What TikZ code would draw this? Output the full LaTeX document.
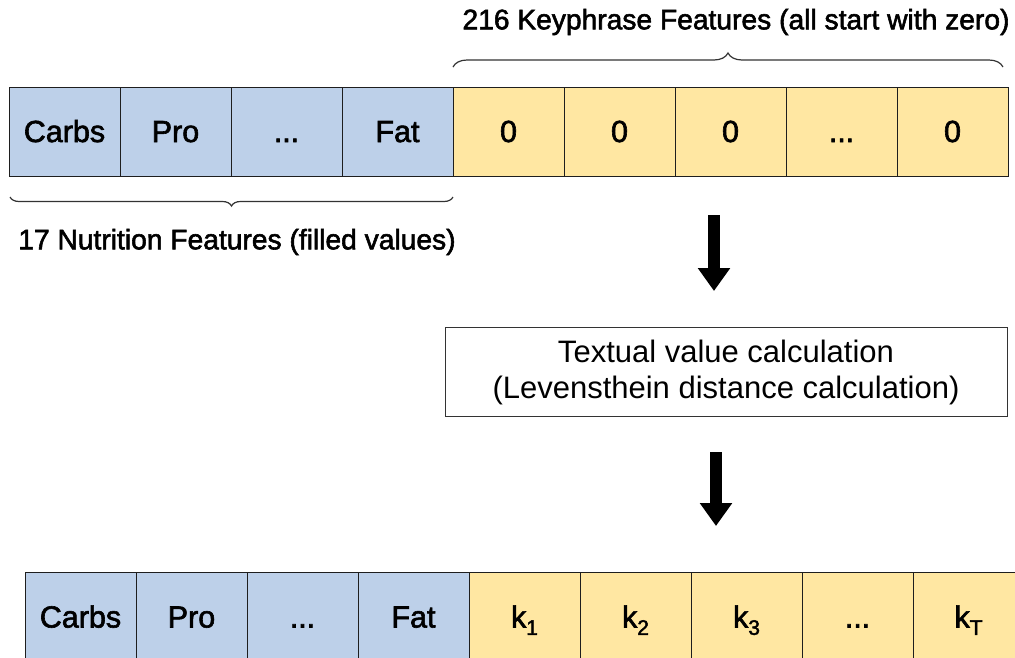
\documentclass[tikz,border=0pt]{standalone}
\usepackage{fontspec}
\setmainfont{Liberation Sans}
\newfontfamily\medfont[FakeBold=2]{Liberation Sans}
\usetikzlibrary{arrows.meta,decorations.pathreplacing}
\definecolor{cblue}{RGB}{189,208,233}
\definecolor{cyell}{RGB}{255,231,162}
\definecolor{bordc}{RGB}{30,30,30}
\newcommand{\kk}[1]{k\raisebox{-0.24em}{\fontsize{21}{21}\selectfont #1}}
\newcommand{\dotz}{.\kern0pt.\kern0pt.}
\tikzset{
  cell/.style={draw=bordc, line width=1pt, minimum width=111pt, minimum height=89pt, inner sep=0pt,
    text height=21pt, text depth=0pt,
    font=\medfont\fontsize{30.5}{32}\selectfont},
  bcell/.style={cell, fill=cblue},
  ycell/.style={cell, fill=cyell},
  lbl/.style={inner sep=0pt, font=\medfont\fontsize{28.2}{32}\selectfont},
  brc/.style={decorate, draw=black!80, line width=1.2pt},
  bigarrow/.style={line width=12pt, -{Triangle[width=31pt,length=23pt]}},
  procbox/.style={draw=black!80, line width=1pt, minimum width=562pt, minimum height=89pt,
    align=center, font=\fontsize{31}{36}\selectfont}
}
\begin{document}
\begin{tikzpicture}[x=1pt,y=-1pt]
\useasboundingbox (0,0) rectangle (1015,657);
\clip (0,0) rectangle (1015,657);
\fill[white] (0,0) rectangle (1015,657);
% top row
\node[bcell] (t1) at (64.5,131.5) {Carbs};
\node[bcell] (t2) at (175.5,131.5) {Pro};
\node[bcell] (t3) at (286.5,131.5) {\dotz};
\node[bcell] (t4) at (397.5,131.5) {Fat};
\node[ycell] (t5) at (508.5,131.5) {0};
\node[ycell] (t6) at (619.5,131.5) {0};
\node[ycell] (t7) at (730.5,131.5) {0};
\node[ycell] (t8) at (841.5,131.5) {\dotz};
\node[ycell] (t9) at (952.5,131.5) {0};
% braces
\coordinate (b1s) at (453,67);
\coordinate (b1e) at (1003,67);
\draw[brc, decoration={brace, amplitude=14pt}] (b1s) -- (b1e);
\node[lbl] (lab1) at (736,22) {216 Keyphrase Features (all start with zero)};
\coordinate (b2s) at (10,197);
\coordinate (b2e) at (453,197);
\draw[brc, decoration={brace, mirror, amplitude=9pt}] (b2s) -- (b2e);
\node[lbl] (lab2) at (237,242) {17 Nutrition Features (filled values)};
% process box
\node[procbox] (proc) at (726,372) {Textual value calculation\\(Levensthein distance calculation)};
% arrows
\coordinate (a1s) at (714,215);
\coordinate (a1e) at (714,291);
\draw[bigarrow] (a1s) -- (a1e);
\coordinate (a2s) at (716,452);
\coordinate (a2e) at (716,526);
\draw[bigarrow] (a2s) -- (a2e);
% bottom row
\node[bcell] (u1) at (80.5,617) {Carbs};
\node[bcell] (u2) at (191.5,617) {Pro};
\node[bcell] (u3) at (302.5,617) {\dotz};
\node[bcell] (u4) at (413.5,617) {Fat};
\node[ycell] (u5) at (524.5,617) {\kk{1}};
\node[ycell] (u6) at (635.5,617) {\kk{2}};
\node[ycell] (u7) at (746.5,617) {\kk{3}};
\node[ycell] (u8) at (857.5,617) {\dotz};
\node[ycell] (u9) at (968.5,617) {\kk{T}};
\end{tikzpicture}
\end{document}
